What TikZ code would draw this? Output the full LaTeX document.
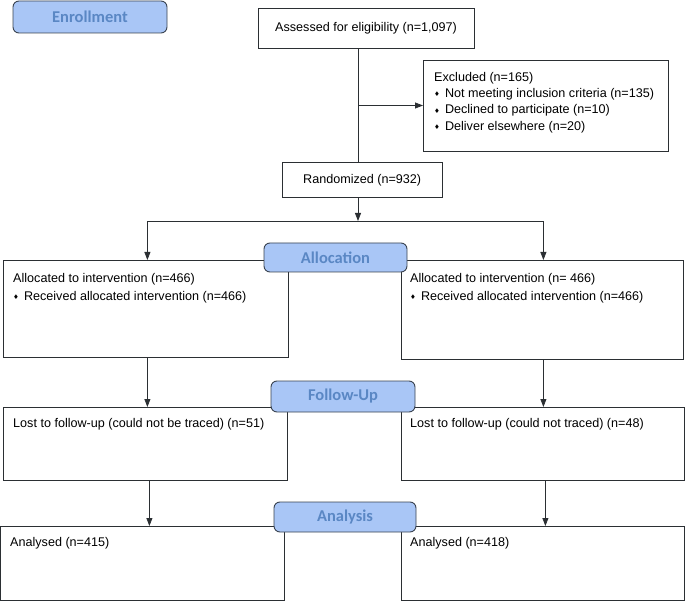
\documentclass[tikz,border=0pt]{standalone}
\usepackage{fontspec}
\setmainfont{Liberation Sans}
\newfontfamily\phasefont{Carlito}
\newfontfamily\symfont{DejaVu Sans}
\usepackage{tikz}
\usetikzlibrary{arrows.meta,calc,positioning}
\definecolor{ink}{HTML}{2B2F33}
\definecolor{phasefill}{HTML}{A9C6F6}
\definecolor{phaseline}{HTML}{3A4350}
\definecolor{phasetext}{HTML}{5A87C4}
\newcommand{\dia}{{\symfont\fontsize{6.5}{6.5}\selectfont\raisebox{0.6pt}{♦}}\hspace{5pt}}

\begin{document}
\begin{tikzpicture}[x=1pt,y=-1pt,>={Triangle[length=8pt,width=6pt]},
  font=\fontsize{12.6}{16.5}\selectfont,
  box/.style={draw=ink,line width=0.8pt,anchor=north west,inner sep=0pt},
  txt/.style={anchor=west,align=left,inner sep=0pt,text=black},
  phase/.style={draw=phaseline,fill=phasefill,line width=0.9pt,rounded corners=6pt,
    text=phasetext,font=\phasefont\bfseries\fontsize{16.5}{18}\selectfont,inner sep=0pt},
  link/.style={draw=ink,line width=0.8pt}]
\useasboundingbox (0,0) rectangle (685,601);
% enrollment
\node[phase,minimum width=154pt,minimum height=32pt] (enrol) at (90,17) {Enrollment};
\node[box,minimum width=216pt,minimum height=40pt] (assess) at (258,8) {};
\node[txt] (assesst) at (275,28) {Assessed for eligibility (n=1,097)};
\node[box,minimum width=245pt,minimum height=91pt] (excl) at (423,60) {};
\node[txt] (exclt) at (434,78) {Excluded (n=165)};
\node[txt] (excla) at (434,94.3) {\dia Not meeting inclusion criteria (n=135)};
\node[txt] (exclb) at (434,110.6) {\dia Declined to participate (n=10)};
\node[txt] (exclc) at (434,126.9) {\dia Deliver elsewhere (n=20)};
\node[box,minimum width=160pt,minimum height=35pt] (rand) at (282,162) {};
\node[txt] (randt) at (303,180) {Randomized (n=932)};
% allocation
\node[box,minimum width=285pt,minimum height=97pt] (allocL) at (3,260) {};
\node[txt] (allocLa) at (13,279) {Allocated to intervention (n=466)};
\node[txt] (allocLb) at (13,297) {\dia Received allocated intervention (n=466)};
\node[box,minimum width=282pt,minimum height=99pt] (allocR) at (401,260) {};
\node[txt] (allocRa) at (410,279) {Allocated to intervention (n= 466)};
\node[txt] (allocRb) at (410,297) {\dia Received allocated intervention (n=466)};
% follow-up
\node[box,minimum width=284pt,minimum height=73pt] (lostL) at (3,407) {};
\node[txt] (lostLt) at (13,424) {Lost to follow-up (could not be traced) (n=51)};
\node[box,minimum width=283pt,minimum height=73pt] (lostR) at (401,407) {};
\node[txt] (lostRt) at (410,424) {Lost to follow-up (could not traced) (n=48)};
% analysis
\node[box,minimum width=284pt,minimum height=74pt] (anaL) at (0,526) {};
\node[txt] (anaLt) at (10,543) {Analysed (n=415)};
\node[box,minimum width=283pt,minimum height=74pt] (anaR) at (401,526) {};
\node[txt] (anaRt) at (410,543) {Analysed (n=418)};
% connectors
\coordinate (trunk) at (358,105.5);
\coordinate (split) at (358,221);
\draw[link] (assess.south -| trunk) -- (rand.north -| trunk);
\draw[link,->] (trunk) -- (excl.west |- trunk);
\draw[link,->] (rand.south -| split) -- (split);
\draw[link,->] (split) -| ([xshift=1.5pt]allocL.north);
\draw[link,->] (split) -| ([xshift=1pt]allocR.north);
\draw[link,->] ([xshift=1.5pt]allocL.south) -- ([xshift=2pt]lostL.north);
\draw[link,->] ([xshift=1pt]allocR.south) -- ([xshift=0.5pt]lostR.north);
\draw[link,->] ([xshift=4pt]lostL.south) -- ([xshift=7pt]anaL.north);
\draw[link,->] ([xshift=2.5pt]lostR.south) -- ([xshift=2.5pt]anaR.north);
% phase labels on top
\node[phase,minimum width=143pt,minimum height=29pt] (alloc) at (335.5,257.5) {Allocation};
\node[phase,minimum width=144pt,minimum height=31pt] (follow) at (343,396.5) {Follow-Up};
\node[phase,minimum width=142pt,minimum height=30pt] (analysis) at (345,517) {Analysis};
\end{tikzpicture}
\end{document}
